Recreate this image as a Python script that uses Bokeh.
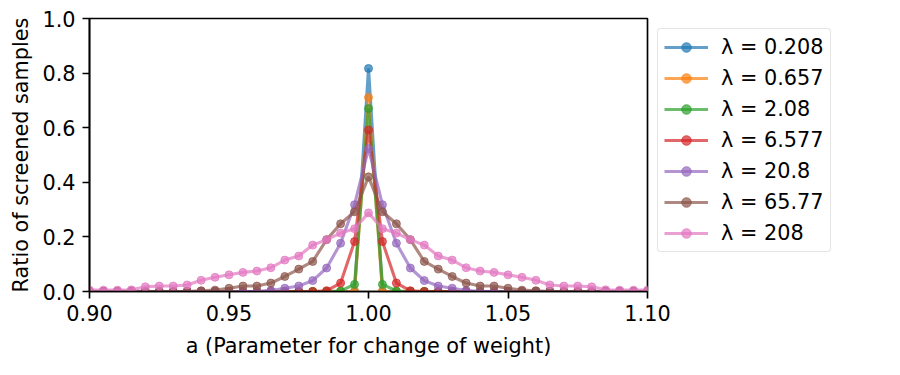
from bokeh.plotting import figure
from bokeh.models import FixedTicker, PrintfTickFormatter, Legend, Range1d
from bokeh.embed import file_html
from bokeh.resources import INLINE

# ---- data ----
a_values = [0.900, 0.905, 0.910, 0.915, 0.920, 0.925, 0.930, 0.935, 0.940, 0.945,
            0.950, 0.955, 0.960, 0.965, 0.970, 0.975, 0.980, 0.985, 0.990, 0.995,
            1.000,
            1.005, 1.010, 1.015, 1.020, 1.025, 1.030, 1.035, 1.040, 1.045, 1.050,
            1.055, 1.060, 1.065, 1.070, 1.075, 1.080, 1.085, 1.090, 1.095, 1.100]

lambda_labels = ["λ = 0.208", "λ = 0.657", "λ = 2.08", "λ = 6.577",
                 "λ = 20.8", "λ = 65.77", "λ = 208"]

ratio_l0208 = [0, 0, 0, 0, 0, 0, 0, 0, 0, 0, 0, 0, 0, 0, 0, 0, 0, 0, 0, 0,
               0.817,
               0, 0, 0, 0, 0, 0, 0, 0, 0, 0, 0, 0, 0, 0, 0, 0, 0, 0, 0, 0]
ratio_l0657 = [0, 0, 0, 0, 0, 0, 0, 0, 0, 0, 0, 0, 0, 0, 0, 0, 0, 0, 0, 0.001,
               0.711,
               0.001, 0, 0, 0, 0, 0, 0, 0, 0, 0, 0, 0, 0, 0, 0, 0, 0, 0, 0, 0]
ratio_l208 = [0, 0, 0, 0, 0, 0, 0, 0, 0, 0, 0, 0, 0, 0, 0, 0, 0, 0, 0.002, 0.026,
              0.670,
              0.026, 0.002, 0, 0, 0, 0, 0, 0, 0, 0, 0, 0, 0, 0, 0, 0, 0, 0, 0, 0]
ratio_l6577 = [0, 0, 0, 0, 0, 0, 0, 0, 0, 0, 0, 0, 0, 0, 0, 0, 0, 0.003, 0.031, 0.183,
               0.592,
               0.183, 0.031, 0.003, 0, 0, 0, 0, 0, 0, 0, 0, 0, 0, 0, 0, 0, 0, 0, 0, 0]
ratio_l208b = [0, 0, 0, 0, 0, 0, 0, 0, 0, 0, 0, 0, 0, 0.004, 0.012, 0.020, 0.040, 0.086, 0.177, 0.318,
               0.523,
               0.318, 0.177, 0.086, 0.040, 0.020, 0.012, 0.004, 0, 0, 0, 0, 0, 0, 0, 0, 0, 0, 0, 0, 0]
ratio_l6577b = [0, 0, 0, 0, 0, 0, 0, 0, 0.003, 0.005, 0.012, 0.020, 0.020, 0.031, 0.055, 0.082, 0.110, 0.190, 0.248, 0.292,
                0.420,
                0.292, 0.248, 0.190, 0.110, 0.082, 0.055, 0.031, 0.020, 0.020, 0.012, 0.005, 0.003, 0, 0, 0, 0, 0, 0, 0, 0]
ratio_l208c = [0.005, 0.005, 0.005, 0.006, 0.017, 0.020, 0.020, 0.024, 0.041, 0.052, 0.061, 0.070, 0.075, 0.087, 0.115, 0.130, 0.170, 0.190, 0.214, 0.230,
               0.288,
               0.230, 0.214, 0.190, 0.170, 0.130, 0.115, 0.087, 0.075, 0.070, 0.061, 0.052, 0.041, 0.024, 0.020, 0.020, 0.017, 0.006, 0.005, 0.005, 0.005]

series = [ratio_l0208, ratio_l0657, ratio_l208, ratio_l6577, ratio_l208b, ratio_l6577b, ratio_l208c]
colors = ["#1f77b4", "#ff7f0e", "#2ca02c", "#d62728", "#9467bd", "#8c564b", "#e377c2"]

x_ticks = [0.90, 0.95, 1.00, 1.05, 1.10]
y_ticks = [0.0, 0.2, 0.4, 0.6, 0.8, 1.0]

FONT = "DejaVu Sans"
FS = "20.8px"

p = figure(frame_width=558, frame_height=273, output_backend="svg", toolbar_location=None,
           x_range=Range1d(0.90, 1.10), y_range=Range1d(0.0, 1.0),
           min_border_left=89, min_border_right=10, min_border_top=18, min_border_bottom=75)
p.background_fill_color = "white"
p.border_fill_color = "white"
p.grid.visible = False
p.outline_line_color = "black"
p.outline_line_width = 1.67

for vals, col, lab in zip(series, colors, lambda_labels):
    p.line(a_values, vals, line_color=col, line_width=3.1, line_alpha=0.7, legend_label=lab)
    p.scatter(a_values, vals, size=8, fill_color=col, line_color=col, fill_alpha=0.7,
              line_alpha=0.7, legend_label=lab)

for ax in (p.xaxis[0], p.yaxis[0]):
    ax.axis_line_color = "black"
    ax.axis_line_width = 1.67
    ax.major_tick_line_color = "black"
    ax.major_tick_line_width = 1.67
    ax.major_tick_in = 0
    ax.major_tick_out = 7
    ax.minor_tick_line_color = None
    ax.major_label_text_font = FONT
    ax.major_label_text_font_size = FS
    ax.major_label_text_color = "black"
    ax.axis_label_text_font = FONT
    ax.axis_label_text_font_size = FS
    ax.axis_label_text_color = "black"
    ax.axis_label_text_font_style = "normal"

p.xaxis[0].ticker = FixedTicker(ticks=x_ticks)
p.xaxis[0].formatter = PrintfTickFormatter(format="%.2f")
p.xaxis[0].major_label_standoff = 6
p.xaxis[0].axis_label = "a (Parameter for change of weight)"
p.xaxis[0].axis_label_standoff = 10
p.yaxis[0].ticker = FixedTicker(ticks=y_ticks)
p.yaxis[0].formatter = PrintfTickFormatter(format="%.1f")
p.yaxis[0].major_label_standoff = 7
p.yaxis[0].axis_label = "Ratio of screened samples"
p.yaxis[0].axis_label_standoff = 6

leg = p.legend[0]
leg.location = "top_left"
leg.label_text_font = FONT
leg.label_text_font_size = FS
leg.label_text_color = "black"
leg.glyph_width = 44
leg.glyph_height = 24
leg.label_height = 24
leg.label_standoff = 13
leg.spacing = 7
leg.padding = 6
leg.margin = 10
leg.border_line_color = "#cccccc"
leg.border_line_width = 1.2
leg.background_fill_alpha = 0.8
if "border_radius" in Legend.properties():
    leg.border_radius = 4
p.add_layout(leg, "right")

open("out.html", "w").write(file_html(p, INLINE))
